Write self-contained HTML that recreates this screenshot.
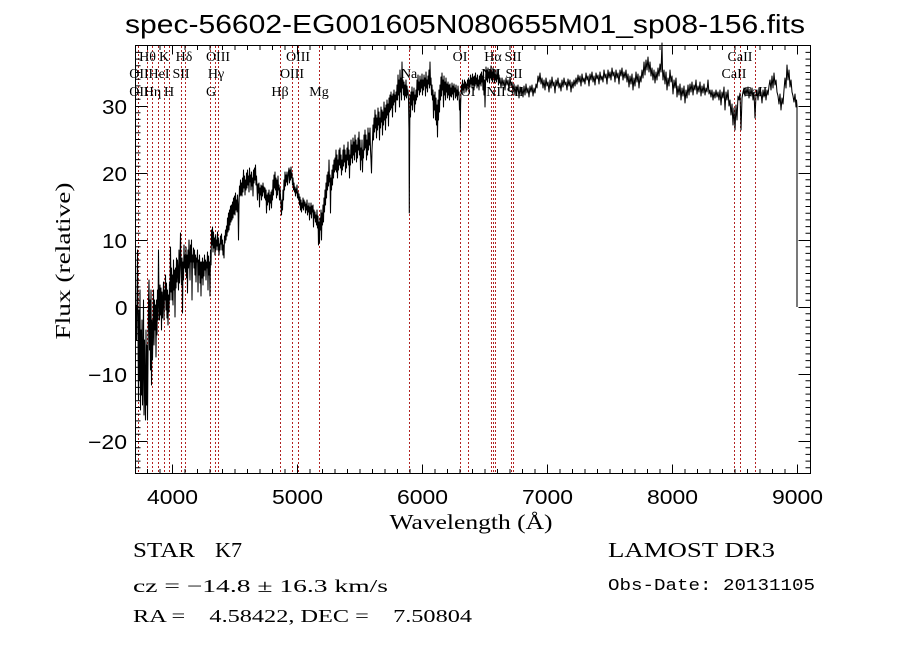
<!DOCTYPE html>
<html><head><meta charset="utf-8"><style>
html,body{margin:0;padding:0;background:#fff;}
svg{display:block;}
.s{font-family:"Liberation Sans",sans-serif;fill:#000;}
.r{font-family:"Liberation Serif",serif;fill:#000;}
.m{font-family:"Liberation Mono",monospace;fill:#000;}
</style></head><body>
<svg width="900" height="649" viewBox="0 0 900 649" xmlns="http://www.w3.org/2000/svg">
<rect width="900" height="649" fill="#fff"/>
<text class="s" x="465" y="33" font-size="26" text-anchor="middle" textLength="680" lengthAdjust="spacingAndGlyphs">spec-56602-EG001605N080655M01_sp08-156.fits</text>

<g stroke="#b22222" stroke-width="1" stroke-dasharray="2,2" fill="none">
<path d="M138.5 46V473M147.5 46V473M152.5 46V473M158.5 46V473M164.5 46V473M169.5 46V473M181.5 46V473M185.5 46V473M210.5 46V473M215.5 46V473M218.5 46V473M280.5 46V473M292.5 46V473M298.5 46V473M319.5 46V473M409.5 46V473M460.5 46V473M468.5 46V473M491.5 46V473M493.5 46V473M495.5 46V473M511.5 46V473M513.5 46V473M734.5 46V473M740.5 46V473M755.5 46V473"/>
</g>

<g class="r" font-size="14" text-anchor="middle">
<text x="147.5" y="61">Hθ</text><text x="164" y="61">K</text><text x="184" y="61">Hδ</text><text x="218" y="61">OIII</text><text x="298" y="61">OIII</text><text x="460" y="61">OI</text><text x="493" y="61">Hα</text><text x="513" y="61">SII</text><text x="740" y="61">CaII</text>
<text x="139" y="78">OII</text><text x="159" y="78">HeI</text><text x="181" y="78">SII</text><text x="216" y="78">Hγ</text><text x="292" y="78">OIII</text><text x="409" y="78">Na</text><text x="491" y="78">NII</text><text x="514" y="78">SII</text><text x="734" y="78">CaII</text>
<text x="139" y="96">OII</text><text x="152.5" y="96">Hη</text><text x="169" y="96">H</text><text x="211" y="96">G</text><text x="280" y="96">Hβ</text><text x="319" y="96">Mg</text><text x="468" y="96">OI</text><text x="496" y="96">NII</text><text x="515" y="96">SII</text><text x="755" y="96">CaII</text>
</g>

<polyline fill="none" stroke="#000" stroke-width="1.05" stroke-linejoin="round" points="136,305 136.5,340 137,300 137.5,250 138,330 138.5,400 139,310 139.5,380 140,290 140.5,410 141,330 141.5,395 142,320 142.5,405 143,360 143.5,300 144,415 144.5,340 145,390 145.5,420 146,330 146.5,405 147,345 147.5,420 148,360 148.5,300 149,280 149.5,350 150,300 150.5,370 151,290 151.5,385 152,320 152.5,360 153,330 153.5,290 154,345 154.5,300 155,330 155.5,305 156,357 156.5,300 157,335 157.5,290 158,320 158.5,250 159,300 159.5,320 160,285 160.5,315 161,288 161.5,330 162,292 162.5,318 163,300 163.5,282 164,320 164.5,290 165,300 165.5,275 166,310 166.5,283 167,318 167.5,290 168,325 168.5,295 169,312 169.5,282 170,300 170.5,247 171,292 171.5,268 172,300 172.5,275 173,305 173.5,260 174,290 174.5,270 175,317 175.5,268 176,288 176.5,258 177,282 177.5,260 178,272 178.5,290 179,250 179.5,283 180,262 180.5,233 181,268 181.5,285 182,258 182.5,313 183,262 183.5,280 184,245 184.5,268 185,255 185.5,272 186,247 186.5,278 187,255 187.5,293 188,250 188.5,268 189,240 189.5,258 190,280 190.5,245 191,262 191.5,240 192,300 192.5,255 193,262 193.5,248 194,268 194.5,250 195,275 195.5,255 196,282 196.5,258 197,262 197.5,250 198,292 198.5,260 199,275 199.5,255 200,283 200.5,262 201,296 201.5,262 202,278 202.5,258 203,285 203.5,262 204,276 204.5,255 205,270 205.5,260 206,280 206.5,262 207,268 207.5,252 208,290 208.5,256 209,275 209.5,262 210,296 210.5,250 211,265 211.5,230 212,245 212.5,227 213,252 213.5,232 214,248 214.5,238 215,255 215.5,235 216,250 216.5,240 217,246 217.5,232 218,250 218.5,238 219,255 219.5,244 220,250 220.5,236 221,244 221.5,234 222,250 222.5,240 223,255 223.5,245 224,258 224.5,236 225,243 225.5,230 226,240 226.5,226 227,236 227.5,218 228,232 228.5,213 229,230 229.5,210 230,225 230.5,206 231,222 231.5,205 232,220 232.5,202 233,218 233.5,198 234,214 234.5,196 235,215 235.5,193 236,210 236.5,200 237,212 237.5,195 238,205 238.5,240 239,205 239.5,186 240,196 240.5,180 241,195 241.5,183 242,196 242.5,178 243,192 243.5,170 244,188 244.5,176 245,195 245.5,180 246,190 246.5,173 247,188 247.5,170 248,185 248.5,176 249,192 249.5,168 250,182 250.5,175 251,190 251.5,172 252,186 252.5,178 253,196 253.5,170 254,183 254.5,168 255,180 255.5,165 256,185 256.5,176 257,188 257.5,200 258,184 258.5,193 259,183 259.5,207 260,188 260.5,195 261,185 261.5,200 262,186 262.5,196 263,183 263.5,192 264,187 264.5,198 265,188 265.5,200 266,190 266.5,213 267,195 267.5,205 268,193 268.5,202 269,190 269.5,210 270,195 270.5,203 271,192 271.5,208 272,190 272.5,200 273,180 273.5,195 274,175 274.5,188 275,172 275.5,190 276,178 276.5,198 277,180 277.5,195 278,176 278.5,190 279,185 279.5,200 280,188 280.5,196 281,205 281.5,215 282,200 282.5,210 283,190 283.5,200 284,180 284.5,190 285,172 285.5,186 286,175 286.5,182 287,172 287.5,185 288,178 288.5,172 289,168 289.5,183 290,170 290.5,180 291,167 291.5,178 292,173 292.5,185 293,178 293.5,190 294,183 294.5,192 295,187 295.5,196 296,189 296.5,193 297,185 297.5,198 298,192 298.5,200 299,194 299.5,205 300,197 300.5,210 301,200 301.5,212 302,203 302.5,208 303,198 303.5,210 304,200 304.5,206 305,202 305.5,213 306,204 306.5,210 307,200 307.5,215 308,206 308.5,212 309,203 309.5,220 310,207 310.5,214 311,203 311.5,218 312,206 312.5,212 313,205 313.5,227 314,210 314.5,218 315,212 315.5,222 316,215 316.5,225 317,210 317.5,228 318,216 318.5,245 319,222 319.5,243 320,218 320.5,230 321,210 321.5,240 322,213 322.5,225 323,205 323.5,222 324,198 324.5,212 325,190 325.5,205 326,183 326.5,198 327,175 327.5,190 328,172 328.5,186 329,160 329.5,182 330,175 330.5,213 331,178 331.5,190 332,170 332.5,185 333,165 333.5,178 334,160 334.5,172 335,158 335.5,170 336,150 336.5,172 337,155 337.5,178 338,160 338.5,170 339,150 339.5,165 340,148 340.5,168 341,155 341.5,175 342,160 342.5,170 343,150 343.5,166 344,145 344.5,162 345,150 345.5,172 346,155 346.5,168 347,148 347.5,160 348,142 348.5,165 349,150 349.5,178 350,155 350.5,165 351,140 351.5,158 352,145 352.5,163 353,138 353.5,155 354,142 354.5,160 355,135 355.5,152 356,140 356.5,162 357,145 357.5,158 358,138 358.5,150 359,132 359.5,155 360,140 360.5,170 361,148 361.5,160 362,140 362.5,172 363,150 363.5,158 364,135 364.5,150 365,130 365.5,148 366,135 366.5,160 367,140 367.5,155 368,128 368.5,150 369,133 369.5,145 370,128 370.5,150 371,160 371.5,173 372,150 372.5,140 373,125 373.5,140 374,118 374.5,132 375,110 375.5,128 376,115 376.5,138 377,118 377.5,130 378,108 378.5,125 379,112 379.5,140 380,118 380.5,128 381,107 381.5,122 382,110 382.5,135 383,112 383.5,125 384,102 384.5,120 385,108 385.5,130 386,105 386.5,118 387,100 387.5,115 388,104 388.5,126 389,98 389.5,112 390,95 390.5,110 391,92 391.5,108 392,96 392.5,117 393,94 393.5,105 394,90 394.5,102 395,95 395.5,112 396,92 396.5,100 397,85 397.5,100 398,75 398.5,95 399,80 399.5,107 400,70 400.5,92 401,78 401.5,100 402,62 402.5,88 403,80 403.5,95 404,82 404.5,100 405,85 405.5,96 406,80 406.5,98 407,86 407.5,95 408,90 408.5,100 409,130 409.3,213 409.6,150 410,95 410.5,117 411,92 411.5,105 412,87 412.5,110 413,92 413.5,100 414,88 414.5,112 415,95 415.5,104 416,90 416.5,100 417,80 417.5,97 418,75 418.5,90 419,82 419.5,95 420,76 420.5,92 421,80 421.5,88 422,74 422.5,95 423,80 423.5,90 424,75 424.5,86 425,78 425.5,96 426,72 426.5,88 427,80 427.5,92 428,76 428.5,84 429,70 429.5,88 430,62 430.5,85 431,78 431.5,95 432,85 432.5,100 433,90 433.5,118 434,95 434.5,110 435,92 435.5,120 436,98 436.5,125 437,105 437.5,137 438,100 438.5,120 439,90 439.5,112 440,85 440.5,100 441,77 441.5,96 442,73 442.5,90 443,80 443.5,107 444,76 444.5,95 445,82 445.5,100 446,78 446.5,92 447,84 447.5,98 448,82 448.5,95 449,85 449.5,100 450,84 450.5,96 451,88 451.5,97 452,83 452.5,94 453,86 453.5,100 454,84 454.5,92 455,88 455.5,98 456,85 456.5,96 457,90 457.5,100 458,86 458.5,95 459,92 459.5,110 460,100 460.3,132 460.6,105 461,92 461.5,85 462,93 462.5,80 463,90 463.5,84 464,93 464.5,80 465,88 465.5,82 466,92 466.5,84 467,90 467.5,80 468,86 468.5,78 469,90 469.5,80 470,87 470.5,75 471,84 471.5,78 472,88 472.5,74 473,85 473.5,77 474,90 474.5,76 475,86 475.5,73 476,84 476.5,78 477,88 477.5,75 478,86 478.5,80 479,90 479.5,76 480,84 480.5,74 481,86 481.5,72 482,82 482.5,76 483,90 483.5,70 484,95 484.5,80 485,107 485.5,85 486,67 486.5,80 487,70 487.5,82 488,68 488.5,78 489,72 489.5,83 490,70 490.5,78 491,66 491.5,80 492,72 492.5,82 493,68 493.5,76 494,74 494.5,83 495,70 495.5,80 496,75 496.5,82 497,70 497.5,79 498,74 498.5,85 499,75 499.5,83 500,78 501,88 502,78 503,86 504,80 505,90 506,78 507,85 508,80 509,90 510,77 511,86 512,82 513,92 514,84 515,95 516,86 517,92 518,85 519,98 520,87 521,94 522,88 523,97 524,86 525,95 526,84 527,93 528,88 529,97 530,86 531,92 532,85 533,96 534,88 535,93 536,84 537,88 538,76 539,82 540,73 541,84 542,78 543,88 544,80 545,90 546,78 547,86 548,82 549,92 550,80 551,88 552,77 553,86 554,82 555,93 556,80 557,86 558,78 559,88 560,83 561,91 562,80 563,87 564,78 565,85 566,82 567,90 568,79 569,86 570,80 571,92 572,82 573,88 574,80 575,86 576,78 577,84 578,75 579,82 580,76 581,86 582,74 583,82 584,78 585,84 586,73 587,80 588,76 589,86 590,74 591,80 592,72 593,82 594,76 595,85 596,73 597,79 598,75 599,84 600,72 601,80 602,76 603,82 604,70 605,78 606,74 607,84 608,70 609,78 610,72 611,80 612,68 613,76 614,72 615,82 616,70 617,78 618,73 619,84 620,70 621,76 622,68 623,80 624,72 625,78 626,70 627,82 628,74 629,87 630,76 631,84 632,74 633,90 634,78 635,86 636,72 637,82 638,74 639,88 640,76 641,82 642,70 643,78 644,62 645,75 646,60 647,70 648,57 649,72 650,62 651,76 652,68 653,80 654,70 655,83 656,72 657,80 658,68 659,76 660,64 661,72 662,43 662.5,70 663,80 664,70 665,84 666,72 667,90 668,78 669,86 670,70 671,82 672,76 673,94 674,80 675,88 676,78 677,97 678,86 679,95 680,84 681,100 682,88 683,96 684,86 685,103 686,90 687,98 688,85 689,95 690,84 691,92 692,82 693,95 694,85 695,90 696,80 697,94 698,86 699,92 700,82 701,96 702,86 703,93 704,84 705,95 706,88 707,92 708,80 709,94 710,90 711,97 712,90 713,100 714,92 715,98 716,90 717,97 718,92 719,100 720,90 721,105 722,92 723,98 724,87 725,110 726,92 727,100 728,90 729,106 730,100 731,115 732,104 733,125 734,108 735,130 736,105 737,120 738,96 739,100 740,93 741,130 742,98 743,92 744,88 745,96 746,88 747,95 748,87 749,98 750,89 751,96 752,88 753,100 754,92 755,118 756,95 757,90 758,100 759,88 760,96 761,92 762,103 763,90 764,97 765,88 766,100 767,90 768,95 769,86 770,80 771,90 772,76 773,88 774,73 775,85 776,80 777,92 778,96 779,104 780,94 781,110 782,98 783,104 784,90 785,78 786,88 787,65 788,80 789,70 790,87 791,80 792,92 793,96 794,102 795,94 796,107 796.5,100 797,106 797,307"/>

<rect x="135.5" y="45.5" width="675" height="428" fill="none" stroke="#000" stroke-width="1"/>

<g stroke="#000" stroke-width="1" fill="none">
<path d="M147.5 473.5v-4.5M160 473.5v-4.5M185 473.5v-4.5M197.5 473.5v-4.5M210 473.5v-4.5M222.5 473.5v-4.5M235 473.5v-4.5M247.5 473.5v-4.5M260 473.5v-4.5M272.5 473.5v-4.5M285 473.5v-4.5M310 473.5v-4.5M322.5 473.5v-4.5M335 473.5v-4.5M347.5 473.5v-4.5M360 473.5v-4.5M372.5 473.5v-4.5M385 473.5v-4.5M397.5 473.5v-4.5M410 473.5v-4.5M435 473.5v-4.5M447.5 473.5v-4.5M460 473.5v-4.5M472.5 473.5v-4.5M485 473.5v-4.5M497.5 473.5v-4.5M510 473.5v-4.5M522.5 473.5v-4.5M535 473.5v-4.5M560 473.5v-4.5M572.5 473.5v-4.5M585 473.5v-4.5M597.5 473.5v-4.5M610 473.5v-4.5M622.5 473.5v-4.5M635 473.5v-4.5M647.5 473.5v-4.5M660 473.5v-4.5M685 473.5v-4.5M697.5 473.5v-4.5M710 473.5v-4.5M722.5 473.5v-4.5M735 473.5v-4.5M747.5 473.5v-4.5M760 473.5v-4.5M772.5 473.5v-4.5M785 473.5v-4.5"/>
<path d="M172.5 473.5v-9M297.5 473.5v-9M422.5 473.5v-9M547.5 473.5v-9M672.5 473.5v-9M797.5 473.5v-9"/>
<path d="M147.5 45.5v4.5M160 45.5v4.5M185 45.5v4.5M197.5 45.5v4.5M210 45.5v4.5M222.5 45.5v4.5M235 45.5v4.5M247.5 45.5v4.5M260 45.5v4.5M272.5 45.5v4.5M285 45.5v4.5M310 45.5v4.5M322.5 45.5v4.5M335 45.5v4.5M347.5 45.5v4.5M360 45.5v4.5M372.5 45.5v4.5M385 45.5v4.5M397.5 45.5v4.5M410 45.5v4.5M435 45.5v4.5M447.5 45.5v4.5M460 45.5v4.5M472.5 45.5v4.5M485 45.5v4.5M497.5 45.5v4.5M510 45.5v4.5M522.5 45.5v4.5M535 45.5v4.5M560 45.5v4.5M572.5 45.5v4.5M585 45.5v4.5M597.5 45.5v4.5M610 45.5v4.5M622.5 45.5v4.5M635 45.5v4.5M647.5 45.5v4.5M660 45.5v4.5M685 45.5v4.5M697.5 45.5v4.5M710 45.5v4.5M722.5 45.5v4.5M735 45.5v4.5M747.5 45.5v4.5M760 45.5v4.5M772.5 45.5v4.5M785 45.5v4.5"/>
<path d="M172.5 45.5v9M297.5 45.5v9M422.5 45.5v9M547.5 45.5v9M672.5 45.5v9M797.5 45.5v9"/>
<path d="M135.5 52.4h5M135.5 59.1h5M135.5 65.8h5M135.5 72.5h5M135.5 79.2h5M135.5 85.9h5M135.5 92.6h5M135.5 99.3h5M135.5 112.7h5M135.5 119.4h5M135.5 126.1h5M135.5 132.8h5M135.5 139.5h5M135.5 146.2h5M135.5 152.9h5M135.5 159.6h5M135.5 166.3h5M135.5 179.7h5M135.5 186.4h5M135.5 193.1h5M135.5 199.8h5M135.5 206.5h5M135.5 213.2h5M135.5 219.9h5M135.5 226.6h5M135.5 233.3h5M135.5 246.7h5M135.5 253.4h5M135.5 260.1h5M135.5 266.8h5M135.5 273.5h5M135.5 280.2h5M135.5 286.9h5M135.5 293.6h5M135.5 300.3h5M135.5 313.7h5M135.5 320.4h5M135.5 327.1h5M135.5 333.8h5M135.5 340.5h5M135.5 347.2h5M135.5 353.9h5M135.5 360.6h5M135.5 367.3h5M135.5 380.7h5M135.5 387.4h5M135.5 394.1h5M135.5 400.8h5M135.5 407.5h5M135.5 414.2h5M135.5 420.9h5M135.5 427.6h5M135.5 434.3h5M135.5 447.7h5M135.5 454.4h5M135.5 461.1h5M135.5 467.8h5"/>
<path d="M135.5 106.5h12M135.5 173.5h12M135.5 240.5h12M135.5 307.5h12M135.5 374.5h12M135.5 441.5h12"/>
<path d="M810.5 52.4h-5M810.5 59.1h-5M810.5 65.8h-5M810.5 72.5h-5M810.5 79.2h-5M810.5 85.9h-5M810.5 92.6h-5M810.5 99.3h-5M810.5 112.7h-5M810.5 119.4h-5M810.5 126.1h-5M810.5 132.8h-5M810.5 139.5h-5M810.5 146.2h-5M810.5 152.9h-5M810.5 159.6h-5M810.5 166.3h-5M810.5 179.7h-5M810.5 186.4h-5M810.5 193.1h-5M810.5 199.8h-5M810.5 206.5h-5M810.5 213.2h-5M810.5 219.9h-5M810.5 226.6h-5M810.5 233.3h-5M810.5 246.7h-5M810.5 253.4h-5M810.5 260.1h-5M810.5 266.8h-5M810.5 273.5h-5M810.5 280.2h-5M810.5 286.9h-5M810.5 293.6h-5M810.5 300.3h-5M810.5 313.7h-5M810.5 320.4h-5M810.5 327.1h-5M810.5 333.8h-5M810.5 340.5h-5M810.5 347.2h-5M810.5 353.9h-5M810.5 360.6h-5M810.5 367.3h-5M810.5 380.7h-5M810.5 387.4h-5M810.5 394.1h-5M810.5 400.8h-5M810.5 407.5h-5M810.5 414.2h-5M810.5 420.9h-5M810.5 427.6h-5M810.5 434.3h-5M810.5 447.7h-5M810.5 454.4h-5M810.5 461.1h-5M810.5 467.8h-5"/>
<path d="M810.5 106.5h-12M810.5 173.5h-12M810.5 240.5h-12M810.5 307.5h-12M810.5 374.5h-12M810.5 441.5h-12"/>
</g>

<g class="s" font-size="20">
<text x="172.5" y="504" text-anchor="middle" textLength="51" lengthAdjust="spacingAndGlyphs">4000</text>
<text x="297.5" y="504" text-anchor="middle" textLength="51" lengthAdjust="spacingAndGlyphs">5000</text>
<text x="422.5" y="504" text-anchor="middle" textLength="51" lengthAdjust="spacingAndGlyphs">6000</text>
<text x="547.5" y="504" text-anchor="middle" textLength="51" lengthAdjust="spacingAndGlyphs">7000</text>
<text x="672.5" y="504" text-anchor="middle" textLength="51" lengthAdjust="spacingAndGlyphs">8000</text>
<text x="797.5" y="504" text-anchor="middle" textLength="51" lengthAdjust="spacingAndGlyphs">9000</text>
<text x="102" y="114" textLength="25" lengthAdjust="spacingAndGlyphs">30</text>
<text x="102" y="181" textLength="25" lengthAdjust="spacingAndGlyphs">20</text>
<text x="102" y="248" textLength="25" lengthAdjust="spacingAndGlyphs">10</text>
<text x="115" y="315" textLength="12.5" lengthAdjust="spacingAndGlyphs">0</text>
<text x="88" y="382" textLength="39" lengthAdjust="spacingAndGlyphs">−10</text>
<text x="88" y="449" textLength="39" lengthAdjust="spacingAndGlyphs">−20</text>
</g>

<text class="r" font-size="21" transform="translate(70,261) rotate(-90)" text-anchor="middle" textLength="157" lengthAdjust="spacingAndGlyphs">Flux (relative)</text>
<text class="r" font-size="21" x="471" y="529" text-anchor="middle" textLength="163" lengthAdjust="spacingAndGlyphs">Wavelength (Å)</text>

<text class="r" font-size="21" x="133" y="557" textLength="62" lengthAdjust="spacingAndGlyphs">STAR</text>
<text class="r" font-size="21" x="215" y="557" textLength="27" lengthAdjust="spacingAndGlyphs">K7</text>
<text class="r" font-size="21" x="608" y="557" textLength="167" lengthAdjust="spacingAndGlyphs">LAMOST DR3</text>
<text class="r" font-size="18" x="133" y="592" textLength="255" lengthAdjust="spacingAndGlyphs">cz = −14.8 ± 16.3 km/s</text>
<text class="m" font-size="17" x="608" y="590" textLength="207" lengthAdjust="spacingAndGlyphs">Obs-Date: 20131105</text>
<text class="r" font-size="18" x="133" y="622" textLength="339" lengthAdjust="spacingAndGlyphs" xml:space="preserve">RA =    4.58422, DEC =    7.50804</text>
</svg>
</body></html>
